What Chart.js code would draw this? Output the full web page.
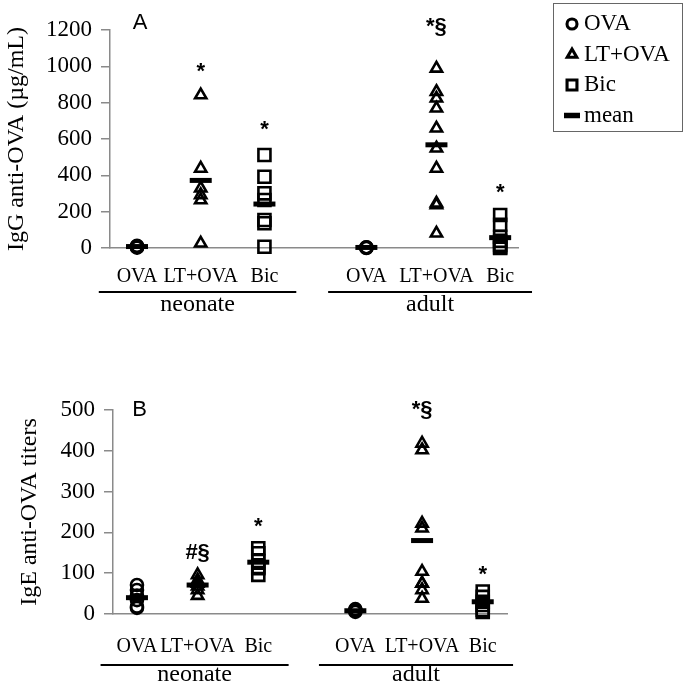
<!DOCTYPE html>
<html>
<head>
<meta charset="utf-8">
<script src="https://cdn.jsdelivr.net/npm/chart.js@4.4.1/dist/chart.umd.min.js"></script>
<style>
  body { margin: 0; background: #fff; }
  .wrap { position: relative; width: 685px; height: 688px; }
  canvas { position: absolute; left: 0; }
</style>
</head>
<body>
<div class="wrap">
  <canvas id="chartA" width="685" height="335" style="top:0"></canvas>
  <canvas id="chartB" width="685" height="353" style="top:335px"></canvas>
</div>
<script>
// categories
const treatments = ['OVA', 'LT+OVA', 'Bic'];
const ages = ['neonate', 'adult'];

// Panel A - IgG anti-OVA (µg/mL), one value per mouse
const iggOvaNeonate = [2, 5, 8, 10, 12, 6];
const iggOvaAdult = [0, 2, 4, 3];
const iggLtNeonate = [842, 438, 329, 292, 264, 26];
const iggLtAdult = [989, 860, 824, 769, 659, 549, 438, 246, 237, 81];
const iggBicNeonate = [512, 392, 301, 264, 154, 136, 7];
const iggBicAdult = [182, 127, 62, 40, 17, 5, 0];
// group means: neonate OVA, LT+OVA, Bic, adult OVA, LT+OVA, Bic
const iggMeans = [8, 372, 242, 3, 568, 57];
const iggTicks = [0, 200, 400, 600, 800, 1000, 1200];
// significance marks: text, group index, height
const iggMarks = ['*', '*', '*§', '*'];
const iggMarkGroup = [1, 2, 4, 5];
const iggMarkY = [969, 649, 1216, 303];

// Panel B - IgE anti-OVA titers
const igeOvaNeonate = [71, 59, 45, 34, 18, 15];
const igeOvaAdult = [10, 8, 5, 12];
const igeLtNeonate = [96, 83, 75, 68, 59, 45];
const igeLtAdult = [418, 402, 222, 210, 104, 75, 75, 59, 38];
const igeBicNeonate = [161, 149, 130, 112, 96, 115];
const igeBicAdult = [55, 42, 30, 22, 10, 5];
const igeMeans = [40, 71, 127, 8, 180, 30];
const igeTicks = [0, 100, 200, 300, 400, 500];
const igeMarks = ['#§', '*', '*§', '*'];
const igeMarkGroup = [1, 2, 4, 5];
const igeMarkY = [150, 213, 500, 96];

// x position of each group (neonate 3, gap, adult 3)
const xPos = [1, 2, 3, 4.6, 5.7, 6.7];

const serif = '"Liberation Serif", "Times New Roman", serif';
const sans = '"Liberation Sans", Arial, sans-serif';

function pts(neo, adult, i) {
  return neo.map(v => ({x: xPos[i], y: v}))
    .concat(adult.map(v => ({x: xPos[i + 3], y: v})));
}

function marker(label, data, style, radius, width, legendRadius) {
  return {
    label: label,
    data: data,
    pointStyle: style,
    pointRadius: radius,
    pointBorderWidth: width,
    borderWidth: width,
    pointBorderColor: '#000',
    borderColor: '#000',
    pointBackgroundColor: 'rgba(0,0,0,0)',
    backgroundColor: 'rgba(0,0,0,0)',
    showLine: false,
    clip: false,
    legendRadius: legendRadius
  };
}

function drawLegend(chart, ctx) {
  const left = chart.chartArea.right + 35;
  ctx.strokeStyle = '#666';
  ctx.lineWidth = 1;
  ctx.strokeRect(left + 0.5, 3.5, 129, 128);
  ctx.font = '23px ' + serif;
  ctx.textAlign = 'left';
  ctx.textBaseline = 'middle';
  chart.data.datasets.forEach((ds, i) => {
    const y = 24 + i * 30.5;
    ctx.strokeStyle = '#000';
    ctx.fillStyle = 'rgba(0,0,0,0)';
    ctx.lineWidth = ds.pointBorderWidth + 0.5;
    Chart.helpers.drawPoint(ctx, {
      pointStyle: ds.pointStyle, radius: ds.legendRadius,
      borderWidth: ds.pointBorderWidth, rotation: 0
    }, left + 19, y);
    ctx.fillStyle = '#000';
    ctx.fillText(ds.label, left + 31, y);
  });
}

function makePanel(id, p) {
  const decor = {
    id: 'decor',
    afterDraw(chart) {
      const {ctx, chartArea} = chart;
      const x = chart.scales.x, y = chart.scales.y;
      ctx.save();
      ctx.fillStyle = '#000';
      ctx.textAlign = 'center';
      ctx.textBaseline = 'middle';
      // panel letter
      ctx.font = '22px ' + sans;
      ctx.fillText(p.letter, chartArea.left + p.letterDx, chartArea.top + p.letterDy);
      // significance marks
      ctx.font = 'bold 22px ' + sans;
      p.marks.forEach((m, i) => {
        ctx.fillText(m, x.getPixelForValue(xPos[p.markGroup[i]]), y.getPixelForValue(p.markY[i]));
      });
      // age groups under the axis
      ctx.strokeStyle = '#000';
      ctx.lineWidth = 2;
      ctx.font = '24px ' + serif;
      ages.forEach((age, g) => {
        const x0 = x.getPixelForValue(xPos[g * 3] - 0.6);
        const x1 = x.getPixelForValue(xPos[g * 3 + 2] + 0.5);
        const ly = chartArea.bottom + p.lineDy;
        ctx.beginPath();
        ctx.moveTo(x0, ly);
        ctx.lineTo(x1, ly);
        ctx.stroke();
        ctx.fillText(age, (x0 + x1) / 2, chartArea.bottom + p.nameDy);
      });
      if (p.legend) drawLegend(chart, ctx);
      ctx.restore();
    }
  };

  const means = p.means.map((v, i) => ({x: xPos[i], y: v}));

  new Chart(document.getElementById(id), {
    type: 'scatter',
    data: {
      datasets: [
        marker(treatments[0], pts(p.ova[0], p.ova[1], 0), 'circle', 6, 2.6, 5),
        marker(treatments[1], pts(p.lt[0], p.lt[1], 1), 'triangle', 6.5, 2.6, 5.5),
        marker(treatments[2], pts(p.bic[0], p.bic[1], 2), 'rect', 8.5, 2.6, 7),
        Object.assign(marker('mean', means, 'line', 11, 5, 8), {order: -1})
      ]
    },
    options: {
      responsive: false,
      animation: false,
      events: [],
      layout: { padding: { top: p.padTop, right: p.padRight, bottom: 0, left: 0 } },
      plugins: { legend: { display: false }, tooltip: { enabled: false } },
      scales: {
        x: {
          type: 'linear',
          min: p.xMin,
          max: p.xMax,
          afterBuildTicks: s => { s.ticks = xPos.map(v => ({value: v})); },
          afterFit: s => { s.height = p.xHeight; s.paddingLeft = 0; s.paddingRight = 0; },
          grid: { display: false, drawTicks: false },
          border: { display: true, color: '#8a8a8a', width: 1.5 },
          ticks: {
            autoSkip: false,
            maxRotation: 0,
            padding: p.xTickPad,
            color: '#000',
            font: { family: serif, size: 20 },
            callback: (v, i) => treatments[i % 3]
          }
        },
        y: {
          min: 0,
          max: p.ticks[p.ticks.length - 1],
          afterBuildTicks: s => { s.ticks = p.ticks.map(v => ({value: v})); },
          afterFit: s => { s.width = p.yWidth; s.paddingTop = 0; s.paddingBottom = 0; },
          grid: { display: true, drawOnChartArea: false, drawTicks: true, tickLength: 9, color: '#8a8a8a', lineWidth: 1.5 },
          border: { display: true, color: '#8a8a8a', width: 1.5 },
          ticks: {
            color: '#000',
            padding: 9,
            font: { family: serif, size: 23 },
            callback: v => String(v)
          },
          title: {
            display: true,
            text: p.title,
            color: '#000',
            font: { family: serif, size: 24 },
            padding: { top: p.titlePad, bottom: 0 }
          }
        }
      }
    },
    plugins: [decor]
  });
}

makePanel('chartA', {
  ova: [iggOvaNeonate, iggOvaAdult],
  lt: [iggLtNeonate, iggLtAdult],
  bic: [iggBicNeonate, iggBicAdult],
  means: iggMeans,
  ticks: iggTicks,
  marks: iggMarks, markGroup: iggMarkGroup, markY: iggMarkY,
  title: 'IgG anti-OVA (µg/mL)',
  padTop: 30, padRight: 167, yWidth: 110, xHeight: 87,
  xMin: 0.576, xMax: 6.98, xTickPad: 17, titlePad: 2,
  letter: 'A', letterDx: 30, letterDy: -7.5,
  lineDy: 44, nameDy: 57, legend: true
});

makePanel('chartB', {
  ova: [igeOvaNeonate, igeOvaAdult],
  lt: [igeLtNeonate, igeLtAdult],
  bic: [igeBicNeonate, igeBicAdult],
  means: igeMeans,
  ticks: igeTicks,
  marks: igeMarks, markGroup: igeMarkGroup, markY: igeMarkY,
  title: 'IgE anti-OVA titers',
  padTop: 75, padRight: 178, yWidth: 113, xHeight: 74,
  xMin: 0.605, xMax: 7.10, xTickPad: 21, titlePad: 15,
  letter: 'B', letterDx: 26.5, letterDy: -0.5,
  lineDy: 51, nameDy: 61, legend: false
});
</script>
</body>
</html>
